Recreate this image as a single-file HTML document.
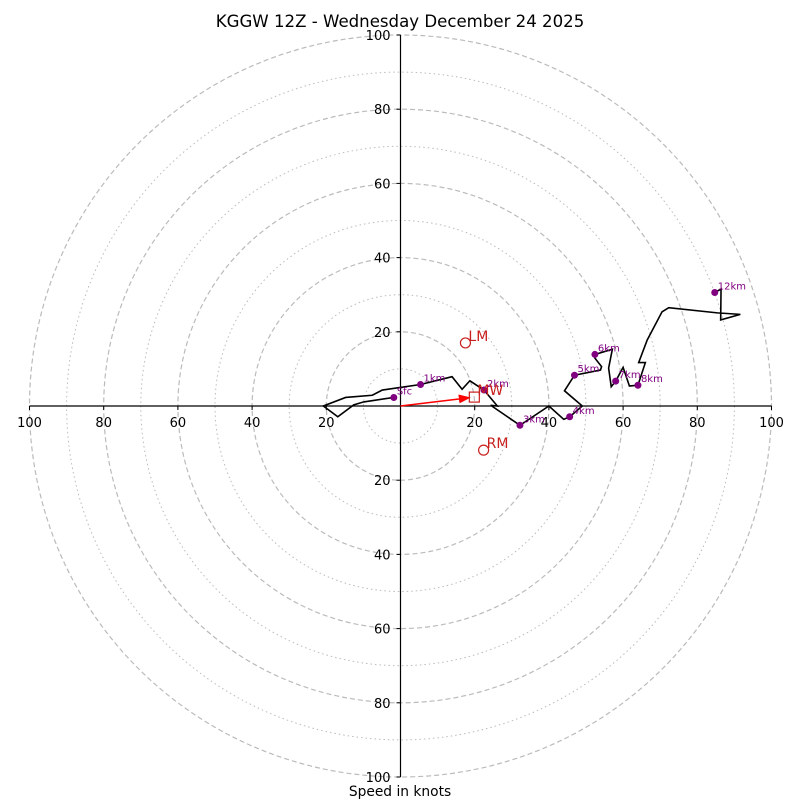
<!DOCTYPE html>
<html><head><meta charset="utf-8"><style>
body{margin:0;background:#fff}
svg{display:block;font-family:"DejaVu Sans","Liberation Sans",sans-serif}
</style></head><body>
<svg id="chart" width="800" height="800" viewBox="0 0 800 800" xmlns="http://www.w3.org/2000/svg">
<rect width="800" height="800" fill="#fff"/>
<text x="400" y="27" text-anchor="middle" font-size="16.6">KGGW 12Z - Wednesday December 24 2025</text>
<text x="400" y="796" text-anchor="middle" font-size="13.8">Speed in knots</text>
<g id="rings"></g><g id="axes"></g><g id="trace"></g><g id="storm"></g>
</svg>
<script>
const ringValues=[10,20,30,40,50,60,70,80,90,100];
const tickValues=[20,40,60,80,100];
const uWind=[-1.8,-9.9,-12.6,-16.9,-20.8,-14.8,-7.6,-4.9,5.4,13.9,16.6,18.7,22.5,26.1,24.3,32.2,40.0,44.0,45.6,49.0,44.2,46.9,53.9,54.2,52.4,52.4,57.1,56.1,56.8,58.0,60.0,61.7,64.0,66.0,64.2,66.5,70.5,72.3,85.4,91.6,86.3,86.4,84.7];
const vWind=[2.3,1.1,0.3,-2.9,0,2.3,2.9,4.3,5.8,7.9,4.5,6.8,4.3,0,0.2,-5.2,0,-3.6,-2.9,0,4.1,8.3,9.7,10.6,12.9,13.9,15.3,10.2,5.2,6.7,10.4,5.4,5.6,11.7,11.7,17.8,25.4,26.5,25.1,24.7,23.2,31.5,30.6];
const markerIndex=[0,8,12,15,18,21,25,29,32,42];
const markerLabels=["Sfc","1km","2km","3km","4km","5km","6km","7km","8km","12km"];
const stormNames=["LM","RM","MW"];
const stormU=[17.5,22.4,19.9];
const stormV=[17.0,-11.9,2.4];
const NS="http://www.w3.org/2000/svg";
const cx=400.5,cy=406,S=3.71;
const X=u=>cx+u*S, Y=v=>cy-v*S;
function mk(p,tag,at){const e=document.createElementNS(NS,tag);for(const k in at)e.setAttribute(k,at[k]);p.appendChild(e);return e;}
const rings=document.getElementById('rings');
ringValues.forEach(r=>{
  const c=mk(rings,'circle',{cx:cx,cy:cy,r:r*S,fill:'none',stroke:'#bbb','stroke-width':r%20===0?1.2:1,'stroke-dasharray':r%20===0?'5,3':'1.5,3'});
  
  
});
const axes=document.getElementById('axes');
let l=mk(axes,'line',{x1:X(-100),y1:cy,x2:X(100),y2:cy,stroke:'#000','stroke-width':1.2});


l=mk(axes,'line',{x1:cx,y1:Y(100),x2:cx,y2:Y(-100),stroke:'#000','stroke-width':1.2});


tickValues.forEach(t=>{
  [-1,1].forEach(s=>{
    mk(axes,'line',{x1:X(s*t),y1:cy,x2:X(s*t),y2:cy+4,stroke:'#000'});
    let tx=mk(axes,'text',{x:X(s*t),y:cy+21,'text-anchor':'middle','font-size':13});
    tx.textContent=t;
    
    
    mk(axes,'line',{x1:cx-4,y1:Y(s*t),x2:cx,y2:Y(s*t),stroke:'#000'});
    let ty=mk(axes,'text',{x:cx-10,y:Y(s*t)+5,'text-anchor':'end','font-size':13});
    ty.textContent=t;
    
    
  });
});
const trace=document.getElementById('trace');
const pl=mk(trace,'polyline',{points:uWind.map((u,i)=>X(u)+','+Y(vWind[i])).join(' '),fill:'none',stroke:'#000','stroke-width':1.6,'stroke-linejoin':'miter'});


markerIndex.forEach((idx,k)=>{
  const c=mk(trace,'circle',{cx:X(uWind[idx]),cy:Y(vWind[idx]),r:3.5,fill:'#800080'});
  
  
  const t=mk(trace,'text',{x:X(uWind[idx])+3,y:Y(vWind[idx])-3,'font-size':10,fill:'#800080'});
  t.textContent=markerLabels[k];
  
  
});
const st=document.getElementById('storm');
mk(st,'defs',{}).innerHTML='<marker id="ah" markerWidth="8" markerHeight="6" refX="7" refY="3" orient="auto"><path d="M0,0 L8,3 L0,6 z" fill="red"/></marker>';
const mwx=X(stormU[2]),mwy=Y(stormV[2]);
const ar=mk(st,'line',{x1:cx,y1:cy,x2:mwx-5,y2:mwy+0.6,stroke:'red','stroke-width':1.5,'marker-end':'url(#ah)'});


stormNames.forEach((n,i)=>{
  const x=X(stormU[i]),y=Y(stormV[i]);
  let m;
  if(n==='MW') m=mk(st,'rect',{x:x-5,y:y-5,width:10,height:10,fill:'none',stroke:'#c8201e','stroke-width':1.2});
  else m=mk(st,'circle',{cx:x,cy:y,r:5,fill:'none',stroke:'#c8201e','stroke-width':1.2});
  
  
  const t=mk(st,'text',{x:x+3,y:y-2,'font-size':14,fill:'#c8201e'});
  t.textContent=n;
  
  
});
</script>
</body></html>
